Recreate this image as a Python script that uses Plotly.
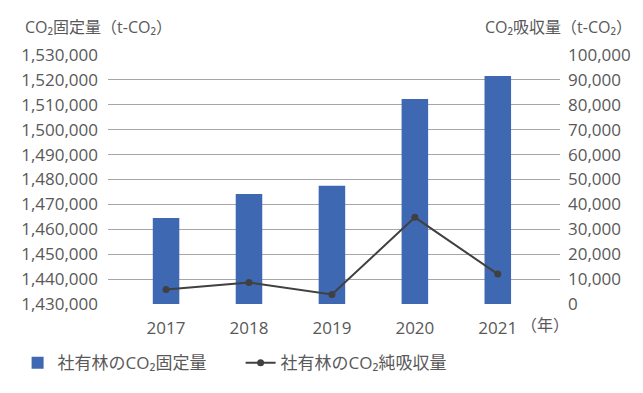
import plotly.graph_objects as go

years = ["2017", "2018", "2019", "2020", "2021"]
fixed_co2 = [1464500, 1474200, 1477500, 1512300, 1521600]
net_absorb = [5800, 8600, 3800, 34800, 12000]

left_ticks = list(range(1430000, 1530001, 10000))
right_ticks = list(range(0, 100001, 10000))

FONT = "Open Sans, Noto Sans CJK JP, sans-serif"
GRAY = "#595959"
GRID = "#a6a6a6"

ML, MR, MT, MB = 108, 78, 55, 68
W, H = 643, 393
W_plot = W - ML - MR
H_plot = H - MT - MB


def px_to_paper(px, py):
    return (px - ML) / W_plot, (H - MB - py) / H_plot


fig = go.Figure()
fig.add_trace(go.Bar(
    x=years, y=[v - 1430000 for v in fixed_co2], base=1430000,
    name="社有林のCO₂固定量", marker=dict(color="#3f68b2", line=dict(width=0)),
    width=0.32, yaxis="y",
))
fig.add_trace(go.Scatter(
    x=years, y=net_absorb, name="社有林のCO₂純吸収量", mode="lines+markers",
    line=dict(color="#404040", width=2), marker=dict(color="#404040", size=7),
    yaxis="y2",
))

anns = []
for text, px, py, anchor in [
    ("CO₂固定量（t-CO₂）", 22, 25, "left"),
    ("CO₂吸収量（t-CO₂）", 640, 25, "right"),
    ("（年）", 550, 348, "center"),
]:
    ax, ay = px_to_paper(px, py)
    anns.append(dict(text=text, x=ax, y=ay, xref="paper", yref="paper",
                     showarrow=False, xanchor=anchor, yanchor="middle",
                     font=dict(size=16, color=GRAY)))

fig.update_layout(
    width=W, height=H,
    margin=dict(l=ML, r=MR, t=MT, b=MB),
    paper_bgcolor="white", plot_bgcolor="white",
    font=dict(family=FONT, size=17, color=GRAY),
    showlegend=True,
    legend=dict(orientation="h", x=-0.2, xanchor="left", y=-0.165, yanchor="top",
                font=dict(size=17, color=GRAY), itemwidth=30, entrywidth=178,
                traceorder="normal"),
    xaxis=dict(type="category", range=[-0.7, 4.75], showgrid=False, showline=False,
               zeroline=False, ticks="", ticklabelstandoff=12,
               tickfont=dict(size=17, color=GRAY)),
    yaxis=dict(range=[1430000, 1530000], tickvals=left_ticks, tickformat=",",
               showgrid=True, gridcolor=GRID, gridwidth=1, zeroline=False,
               showline=False, ticks="", ticklabelstandoff=9,
               tickfont=dict(size=17, color=GRAY), layer="below traces"),
    yaxis2=dict(range=[0, 100000], tickvals=right_ticks, tickformat=",",
                overlaying="y", side="right", showgrid=True, gridcolor=GRID,
                gridwidth=1, zeroline=False,
                showline=False, ticks="", ticklabelstandoff=7,
                tickfont=dict(size=17, color=GRAY)),
    annotations=anns,
)

fig.write_html("out.html")
